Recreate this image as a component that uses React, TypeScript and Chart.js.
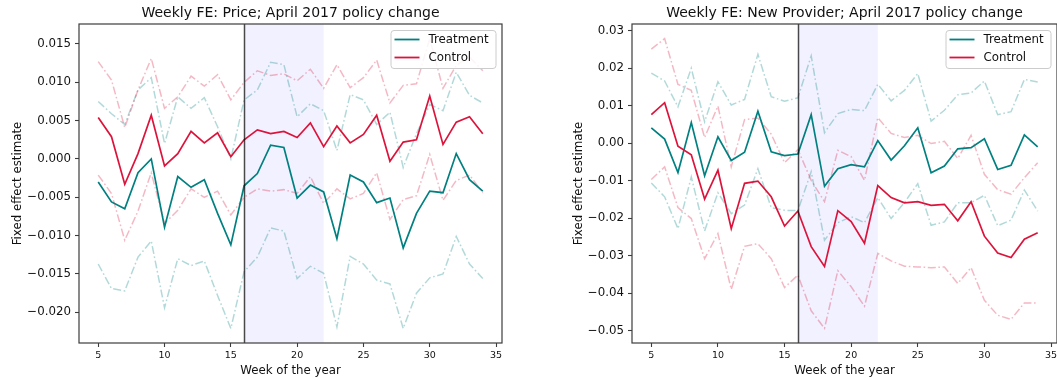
import { useEffect, useRef } from "react";
import { Chart, registerables } from "chart.js";

Chart.register(...registerables);

// Week numbers on the x axis
const weeks = [5, 6, 7, 8, 9, 10, 11, 12, 13, 14, 15, 16, 17, 18, 19, 20, 21, 22, 23, 24, 25, 26, 27, 28, 29, 30, 31, 32, 33, 34];

// Panel 1: Price fixed effects
const priceTreatment = [-0.0030, -0.0056, -0.0065, -0.0018, 0.0000, -0.0089, -0.0023, -0.0037, -0.0027, -0.0071, -0.0112, -0.0035, -0.0019, 0.0018, 0.0015, -0.0051, -0.0034, -0.0043, -0.0104, -0.0021, -0.0030, -0.0057, -0.0051, -0.0116, -0.0071, -0.0042, -0.0044, 0.0007, -0.0027, -0.0042];
const priceTreatmentUpper = [0.0075, 0.0059, 0.0045, 0.0090, 0.0106, 0.0020, 0.0081, 0.0066, 0.0080, 0.0042, 0.0000, 0.0077, 0.0090, 0.0126, 0.0123, 0.0055, 0.0072, 0.0063, 0.0011, 0.0084, 0.0077, 0.0045, 0.0061, -0.0011, 0.0033, 0.0071, 0.0063, 0.0113, 0.0083, 0.0073];
const priceTreatmentLower = [-0.0137, -0.0169, -0.0172, -0.0128, -0.0107, -0.0194, -0.0130, -0.0139, -0.0133, -0.0178, -0.0221, -0.0147, -0.0128, -0.0090, -0.0094, -0.0156, -0.0140, -0.0149, -0.0219, -0.0127, -0.0137, -0.0158, -0.0163, -0.0221, -0.0175, -0.0155, -0.0150, -0.0101, -0.0137, -0.0156];
const priceControl = [0.0054, 0.0029, -0.0033, 0.0007, 0.0057, -0.0009, 0.0007, 0.0036, 0.0021, 0.0034, 0.0003, 0.0025, 0.0038, 0.0033, 0.0036, 0.0028, 0.0047, 0.0016, 0.0043, 0.0021, 0.0032, 0.0057, -0.0003, 0.0022, 0.0025, 0.0082, 0.0019, 0.0048, 0.0055, 0.0033];
const priceControlUpper = [0.0127, 0.0103, 0.0041, 0.0090, 0.0131, 0.0066, 0.0081, 0.0108, 0.0095, 0.0110, 0.0077, 0.0100, 0.0115, 0.0109, 0.0111, 0.0102, 0.0117, 0.0092, 0.0123, 0.0093, 0.0106, 0.0129, 0.0073, 0.0096, 0.0098, 0.0157, 0.0092, 0.0122, 0.0133, 0.0115];
const priceControlLower = [-0.0021, -0.0045, -0.0106, -0.0068, -0.0018, -0.0084, -0.0067, -0.0039, -0.0050, -0.0042, -0.0073, -0.0050, -0.0039, -0.0042, -0.0040, -0.0045, -0.0023, -0.0058, -0.0039, -0.0052, -0.0045, -0.0018, -0.0079, -0.0053, -0.0048, 0.0006, -0.0054, -0.0028, -0.0021, -0.0044];

// Panel 2: New provider fixed effects
const providerTreatment = [0.0041, 0.0011, -0.0078, 0.0055, -0.0087, 0.0017, -0.0046, -0.0024, 0.0085, -0.0023, -0.0033, -0.0029, 0.0076, -0.0115, -0.0068, -0.0057, -0.0063, 0.0007, -0.0045, -0.0007, 0.0041, -0.0079, -0.0061, -0.0015, -0.0012, 0.0012, -0.0070, -0.0059, 0.0022, -0.0010];
const providerTreatmentUpper = [0.0187, 0.0166, 0.0097, 0.0200, 0.0057, 0.0164, 0.0102, 0.0117, 0.0237, 0.0124, 0.0112, 0.0121, 0.0233, 0.0028, 0.0079, 0.0090, 0.0087, 0.0157, 0.0113, 0.0141, 0.0186, 0.0059, 0.0088, 0.0129, 0.0134, 0.0166, 0.0076, 0.0084, 0.0170, 0.0163];
const providerTreatmentLower = [-0.0106, -0.0143, -0.0228, -0.0090, -0.0234, -0.0132, -0.0188, -0.0165, -0.0068, -0.0172, -0.0179, -0.0180, -0.0076, -0.0259, -0.0212, -0.0196, -0.0212, -0.0145, -0.0201, -0.0158, -0.0108, -0.0219, -0.0210, -0.0159, -0.0159, -0.0139, -0.0220, -0.0205, -0.0125, -0.0181];
const providerControl = [0.0076, 0.0108, -0.0008, -0.0031, -0.0149, -0.0072, -0.0228, -0.0107, -0.0101, -0.0143, -0.0221, -0.0181, -0.0276, -0.0329, -0.0180, -0.0209, -0.0267, -0.0113, -0.0145, -0.0159, -0.0156, -0.0166, -0.0163, -0.0207, -0.0156, -0.0248, -0.0293, -0.0305, -0.0256, -0.0239];
const providerControlUpper = [0.0251, 0.0279, 0.0157, 0.0141, 0.0015, 0.0099, -0.0063, 0.0063, 0.0067, 0.0024, -0.0052, -0.0017, -0.0099, -0.0156, -0.0019, -0.0036, -0.0099, 0.0068, 0.0026, 0.0015, 0.0021, -0.0001, 0.0005, -0.0041, 0.0021, -0.0083, -0.0124, -0.0136, -0.0092, -0.0052];
const providerControlLower = [-0.0097, -0.0063, -0.0172, -0.0201, -0.0308, -0.0241, -0.0390, -0.0275, -0.0268, -0.0308, -0.0385, -0.0352, -0.0447, -0.0494, -0.0340, -0.0383, -0.0435, -0.0294, -0.0314, -0.0328, -0.0330, -0.0332, -0.0330, -0.0374, -0.0332, -0.0419, -0.0459, -0.0470, -0.0426, -0.0426];

// Policy change week and the end of the highlighted window
const policyWeek = 16;
const windowEndWeek = 22;

const seriesNames = ["Treatment", "Control"];

const FONT = "DejaVu Sans";
const TEAL = "#008080";
const CRIMSON = "#dc143c";
const TEAL_CI = "rgba(0,128,128,0.3)";
const CRIMSON_CI = "rgba(220,20,60,0.3)";
const TEXT = "#111";
const SPINE = "#3c3c3c";

type Panel = {
  title: string;
  treatment: number[];
  treatmentUpper: number[];
  treatmentLower: number[];
  control: number[];
  controlUpper: number[];
  controlLower: number[];
  yMin: number;
  yMax: number;
  yStep: number;
  decimals: number;
  axisWidth: number;
  padRight: number;
  yTitleX: number;
};

const fmt = (v: number, d: number) => {
  const s = (Math.abs(v) < 1e-12 ? 0 : v).toFixed(d);
  return s.replace("-", "\u2212");
};

const decor = {
  id: "panelDecor",
  beforeDatasetsDraw(chart: any, _a: any, o: any) {
    const { ctx, chartArea: a, scales } = chart;
    const x0 = scales.x.getPixelForValue(o.from);
    const x1 = scales.x.getPixelForValue(o.to);
    ctx.save();
    ctx.fillStyle = "rgba(0,0,255,0.055)";
    ctx.fillRect(x0, a.top, x1 - x0, a.bottom - a.top);
    ctx.restore();
  },
  afterDatasetsDraw(chart: any, _a: any, o: any) {
    const { ctx, chartArea: a, scales } = chart;
    ctx.save();
    // policy change marker
    const xv = Math.round(scales.x.getPixelForValue(o.from)) + 0.5;
    ctx.strokeStyle = "rgba(0,0,0,0.7)";
    ctx.lineWidth = 1.5;
    ctx.beginPath();
    ctx.moveTo(xv, a.top);
    ctx.lineTo(xv, a.bottom);
    ctx.stroke();
    // axes frame
    ctx.strokeStyle = SPINE;
    ctx.lineWidth = 1.2;
    ctx.strokeRect(a.left, a.top, a.right - a.left, a.bottom - a.top);
    // legend
    const w = 105;
    const h = 38;
    const bx = a.right - 6.5 - w;
    const by = a.top + 6;
    ctx.fillStyle = "rgba(255,255,255,0.85)";
    ctx.strokeStyle = "#cccccc";
    ctx.lineWidth = 1;
    ctx.beginPath();
    ctx.roundRect(bx + 0.5, by + 0.5, w, h, 3);
    ctx.fill();
    ctx.stroke();
    const colors = [TEAL, CRIMSON];
    ctx.font = `11.8px "${FONT}"`;
    ctx.textBaseline = "middle";
    ctx.textAlign = "left";
    seriesNames.forEach((name, i) => {
      const yy = by + 9.5 + i * 18;
      ctx.strokeStyle = colors[i];
      ctx.lineWidth = 1.8;
      ctx.beginPath();
      ctx.moveTo(bx + 4, yy);
      ctx.lineTo(bx + 29, yy);
      ctx.stroke();
      ctx.fillStyle = TEXT;
      ctx.fillText(name, bx + 38, yy + 0.5);
    });
    ctx.restore();
  },
  afterDraw(chart: any, _a: any, o: any) {
    const { ctx, chartArea: a } = chart;
    const cx = (a.left + a.right) / 2;
    ctx.save();
    ctx.fillStyle = TEXT;
    ctx.textAlign = "center";
    ctx.textBaseline = "alphabetic";
    ctx.font = `14px "${FONT}"`;
    ctx.fillText(o.title, cx, 16.5);
    ctx.font = `11.8px "${FONT}"`;
    ctx.fillText("Week of the year", cx, 373.5);
    ctx.translate(o.yTitleX, (a.top + a.bottom) / 2);
    ctx.rotate(-Math.PI / 2);
    ctx.font = `11.8px "${FONT}"`;
    ctx.fillText("Fixed effect estimate", 0, 0);
    ctx.restore();
  },
};

function build(canvas: HTMLCanvasElement, p: Panel) {
  const pts = (vals: number[]) => weeks.map((w, i) => ({ x: w, y: vals[i] }));
  const solid = (label: string, vals: number[], color: string) => ({
    label,
    data: pts(vals),
    borderColor: color,
    backgroundColor: color,
    borderWidth: 1.7,
    pointRadius: 0,
    fill: false,
    tension: 0,
  });
  const bound = (label: string, vals: number[], color: string) => ({
    label,
    data: pts(vals),
    borderColor: color,
    backgroundColor: color,
    borderWidth: 1.5,
    borderDash: [8, 2.6, 1.6, 2.6],
    pointRadius: 0,
    fill: false,
    tension: 0,
  });
  return new Chart(canvas, {
    type: "line",
    data: {
      datasets: [
        solid(seriesNames[1], p.control, CRIMSON),
        solid(seriesNames[0], p.treatment, TEAL),
        bound("Control upper", p.controlUpper, CRIMSON_CI),
        bound("Control lower", p.controlLower, CRIMSON_CI),
        bound("Treatment upper", p.treatmentUpper, TEAL_CI),
        bound("Treatment lower", p.treatmentLower, TEAL_CI),
      ],
    },
    options: {
      responsive: false,
      animation: false,
      events: [],
      layout: { padding: { top: 24, right: p.padRight, left: 0, bottom: 0 } },
      plugins: {
        legend: { display: false },
        tooltip: { enabled: false },
        title: { display: false },
        panelDecor: { from: policyWeek, to: windowEndWeek, title: p.title, yTitleX: p.yTitleX },
      } as any,
      scales: {
        x: {
          type: "linear",
          min: 3.55,
          max: 35.45,
          border: { display: false },
          grid: { drawOnChartArea: false, drawTicks: true, tickLength: 4, tickColor: SPINE, tickWidth: 1.1 },
          ticks: {
            stepSize: 5,
            includeBounds: false,
            autoSkip: false,
            maxRotation: 0,
            padding: 3,
            color: TEXT,
            font: { family: FONT, size: 9.5 },
            callback: (v: any) => String(v),
          },
          afterFit: (s: any) => {
            s.height = 37;
          },
        },
        y: {
          type: "linear",
          min: p.yMin,
          max: p.yMax,
          border: { display: false },
          grid: { drawOnChartArea: false, drawTicks: true, tickLength: 4, tickColor: SPINE, tickWidth: 1.1 },
          ticks: {
            stepSize: p.yStep,
            includeBounds: false,
            autoSkip: false,
            padding: 4,
            color: TEXT,
            font: { family: FONT, size: 11.8 },
            callback: (v: any) => fmt(Number(v), p.decimals),
          },
          afterFit: (s: any) => {
            s.width = p.axisWidth;
          },
        },
      },
    },
    plugins: [decor],
  } as any);
}

const pricePanel: Panel = {
  title: "Weekly FE: Price; April 2017 policy change",
  treatment: priceTreatment,
  treatmentUpper: priceTreatmentUpper,
  treatmentLower: priceTreatmentLower,
  control: priceControl,
  controlUpper: priceControlUpper,
  controlLower: priceControlLower,
  yMin: -0.024,
  yMax: 0.0176,
  yStep: 0.005,
  decimals: 3,
  axisWidth: 79,
  padRight: 28,
  yTitleX: 20.5,
};

const providerPanel: Panel = {
  title: "Weekly FE: New Provider; April 2017 policy change",
  treatment: providerTreatment,
  treatmentUpper: providerTreatmentUpper,
  treatmentLower: providerTreatmentLower,
  control: providerControl,
  controlUpper: providerControlUpper,
  controlLower: providerControlLower,
  yMin: -0.0533,
  yMax: 0.0318,
  yStep: 0.01,
  decimals: 2,
  axisWidth: 102,
  padRight: 33,
  yTitleX: 51.5,
};

export default function App() {
  const leftRef = useRef<HTMLCanvasElement>(null);
  const rightRef = useRef<HTMLCanvasElement>(null);

  useEffect(() => {
    const c1 = build(leftRef.current!, pricePanel);
    const c2 = build(rightRef.current!, providerPanel);
    return () => {
      c1.destroy();
      c2.destroy();
    };
  }, []);

  return (
    <div style={{ position: "absolute", left: 0, top: 0, width: 1057, height: 380, background: "#fff", overflow: "hidden" }}>
      <div style={{ position: "absolute", left: 0, top: 0, width: 530, height: 380 }}>
        <canvas ref={leftRef} width={530} height={380} style={{ width: 530, height: 380, display: "block" }} />
      </div>
      <div style={{ position: "absolute", left: 530, top: 0, width: 527, height: 380, overflow: "hidden" }}>
        <canvas ref={rightRef} width={560} height={380} style={{ width: 560, height: 380, display: "block" }} />
      </div>
    </div>
  );
}
